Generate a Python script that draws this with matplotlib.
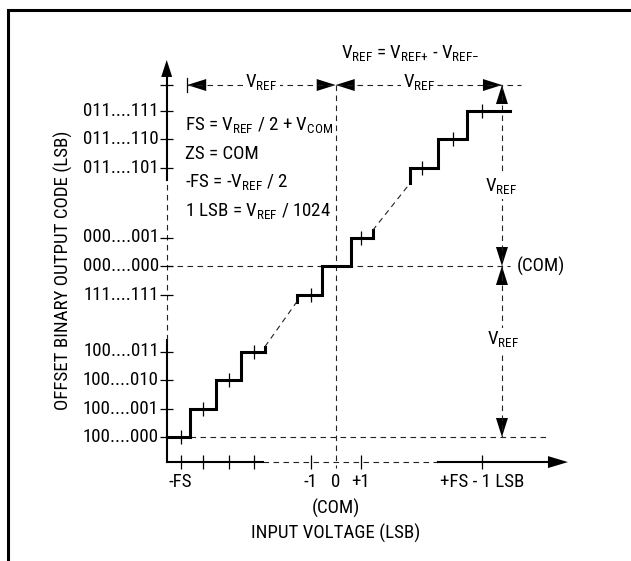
import numpy as np
import matplotlib.pyplot as plt
from matplotlib import font_manager

# pick a narrow sans face if one is installed (the original uses a condensed type)
installed = {f.name for f in font_manager.fontManager.ttflist}
font_name, font_size = 'DejaVu Sans', 10
for name, size in [('Liberation Sans Narrow', 13.6), ('Roboto Condensed', 13.6),
                   ('Arial Narrow', 13.6), ('Roboto', 11.3), ('Liberation Sans', 10.8)]:
    if name in installed:
        font_name, font_size = name, size
        break

plt.rcParams['font.family'] = [font_name, 'DejaVu Sans']
plt.rcParams['mathtext.fontset'] = 'custom'
plt.rcParams['mathtext.rm'] = font_name
plt.rcParams['font.size'] = font_size

# output codes on the y axis (rows, 000....000 = 0, axis is broken between groups)
code_labels = ['100....000', '100....001', '100....010', '100....011', '111....111',
               '000....000', '000....001', '011....101', '011....110', '011....111']
code_rows = [-6, -5, -4, -3, -1, 0, 1, 3.45, 4.45, 5.45]

# input voltage ticks (LSB, axis is broken between groups)
in_tick_pos = [-6.2, -5.3, -4.27, -3.27, -1, 1, 5.84]
in_labels = ['-FS', '-1', '0', '+1', '+FS - 1 LSB']
in_label_pos = [-6.2, -1, 0, 1, 5.84]

# transfer function: code levels, transition edges, code centres
lo_codes = [-6, -5, -4, -3]
lo_edges = [-6.76, -5.83, -4.8, -3.8, -2.83]
lo_centers = [-6.2, -5.3, -4.27, -3.27]
mid_codes = [-1, 0, 1]
mid_edges = [-1.55, -0.55, 0.6, 1.48]
mid_centers = [-1, 1]
hi_codes = [3.45, 4.45, 5.45]
hi_edges = [2.97, 4.09, 5.24, 6.97]
hi_centers = [3.45, 4.68, 5.84]

# layout: pixels per unit
SX, SY = 25.0, 28.5
ax_x, ax_y = -6.76, -6.88      # where the axes cross
dim_y, vref_x = 6.35, 6.65     # V_REF dimension lines

fig = plt.figure(figsize=(6.31, 5.61), dpi=100)
ax = fig.add_axes([0, 0, 1, 1])
ax.set_xlim(-335.7 / SX, (631 - 335.7) / SX)
ax.set_ylim((266 - 561) / SY, 266 / SY)
ax.axis('off')

dash = dict(color='#222222', lw=0.8, ls=(0, (5, 4)))
K = 'black'


def head(x, y, d, L=19, W=12):
    ux, uy = {'up': (0, 1), 'down': (0, -1), 'left': (-1, 0), 'right': (1, 0)}[d]
    bx, by = x - ux * L / SX, y - uy * L / SY
    px, py = -uy * W / 2 / SX, ux * W / 2 / SY
    ax.fill([x, bx + px, bx - px], [y, by + py, by - py], color=K, lw=0)


# frame
fx, fy = (7.5 - 335.7) / SX, (266 - 9.5) / SY
ax.plot([fx, fx, 12], [-11, fy, fy], color=K, lw=2.2, clip_on=False, solid_joinstyle='miter')

# reference dashed lines
ax.plot([ax_x, 6.97], [0, 0], **dash)
ax.plot([lo_edges[1], 8.45], [-6, -6], **dash)
ax.plot([0, 0], [dim_y, -7.09], **dash)
ax.plot([vref_x, vref_x], [dim_y, -6], **dash)
ax.plot([-5.94, 7.41], [dim_y, dim_y], **dash)
ax.plot([-5.94, -5.94], [dim_y - 7 / SY, dim_y + 7 / SY], color=K, lw=0.9)

# axes
ax.plot([ax_x, ax_x], [ax_y, -2.6], color=K, lw=1.5)
ax.plot([ax_x, ax_x], [-2.6, 3.02], **dash)
ax.plot([ax_x, ax_x], [3.02, 7.0], color=K, lw=1.5)
ax.plot([ax_x, -2.91], [ax_y, ax_y], color=K, lw=1.5)
ax.plot([-2.91, 4.09], [ax_y, ax_y], **dash)
ax.plot([4.09, 9.0], [ax_y, ax_y], color=K, lw=1.5)
head(ax_x, 7.23, 'up', L=17, W=11)
head(9.29, ax_y, 'right', L=20, W=12)

# ticks
ax.hlines(code_rows + [dim_y], ax_x - 6.5 / SX, ax_x + 6.5 / SX, color=K, lw=0.9)
ax.vlines(in_tick_pos, ax_y - 7 / SY, ax_y + 7 / SY, color=K, lw=0.9)
for lab, r in zip(code_labels, code_rows):
    ax.text(ax_x - 0.31, r, lab, ha='right', va='center')
for lab, p in zip(in_labels, in_label_pos):
    ax.text(p, -7.58, lab, ha='center', va='center')
ax.text(0, -8.49, '(COM)', ha='center', va='center')
ax.text(0, -9.4, 'INPUT VOLTAGE (LSB)', ha='center', va='center')
ax.text(-10.9, -0.14, 'OFFSET BINARY OUTPUT CODE (LSB)', rotation=90,
        ha='center', va='center')

# staircase
step_kw = dict(where='post', color=K, lw=2.2, solid_joinstyle='miter')
ax.step(lo_edges, lo_codes + [lo_codes[-1]], **step_kw)
ax.plot([lo_edges[-1]] * 2, [lo_codes[-1], lo_codes[-1] + 0.17], color=K, lw=2.2)
ax.step([mid_edges[0]] + mid_edges, [mid_codes[0] - 0.25] + mid_codes + [mid_codes[-1]], **step_kw)
ax.plot([mid_edges[-1]] * 2, [mid_codes[-1], mid_codes[-1] + 0.25], color=K, lw=2.2)
ax.step([hi_edges[0]] + hi_edges, [hi_codes[0] - 0.55] + hi_codes + [hi_codes[-1]], **step_kw)
ax.plot([lo_edges[-1], mid_edges[0]], [lo_codes[-1] + 0.17, mid_codes[0] - 0.25], **dash)
ax.plot([mid_edges[-1], hi_edges[0]], [mid_codes[-1] + 0.25, hi_codes[0] - 0.55], **dash)
for cs, rs in [(lo_centers, lo_codes), (mid_centers, [-1, 1]), (hi_centers, hi_codes)]:
    ax.vlines(cs, np.array(rs) - 7 / SY, np.array(rs) + 7 / SY, color=K, lw=0.9)

# V_REF dimensions
head(-5.94, dim_y, 'left')
head(0, dim_y, 'right')
head(0, dim_y, 'left')
head(vref_x, dim_y, 'right')
head(vref_x, dim_y, 'up')
head(vref_x, 0, 'down')
head(vref_x, 0, 'up')
head(vref_x, -6, 'down')
wb = dict(facecolor='white', edgecolor='none', pad=1.5)
vref = 'V$_\\mathrm{REF}$'
ax.text(-2.97, 6.25, vref, ha='center', va='baseline', bbox=wb)
ax.text(3.33, 6.25, vref, ha='center', va='baseline', bbox=wb)
ax.text(6.6, 2.6, vref, ha='center', va='baseline', bbox=wb)
ax.text(6.7, -2.77, vref, ha='center', va='baseline', bbox=wb)
ax.text(7.25, 0, '(COM)', ha='left', va='center')
ax.text(2.97, 7.28, 'V$_\\mathrm{REF}$ = V$_\\mathrm{REF{+}}$ - V$_\\mathrm{REF{-}}$',
        ha='center', va='baseline')

# definitions
defs = ['FS = V$_\\mathrm{REF}$ / 2 + V$_\\mathrm{COM}$', 'ZS = COM',
        '-FS = -V$_\\mathrm{REF}$ / 2', '1 LSB = V$_\\mathrm{REF}$ / 1024']
for i, t in enumerate(defs):
    ax.text(-6.03, 4.75 - 1.005 * i, t, ha='left', va='baseline')

fig.savefig('out.png', dpi=100)
